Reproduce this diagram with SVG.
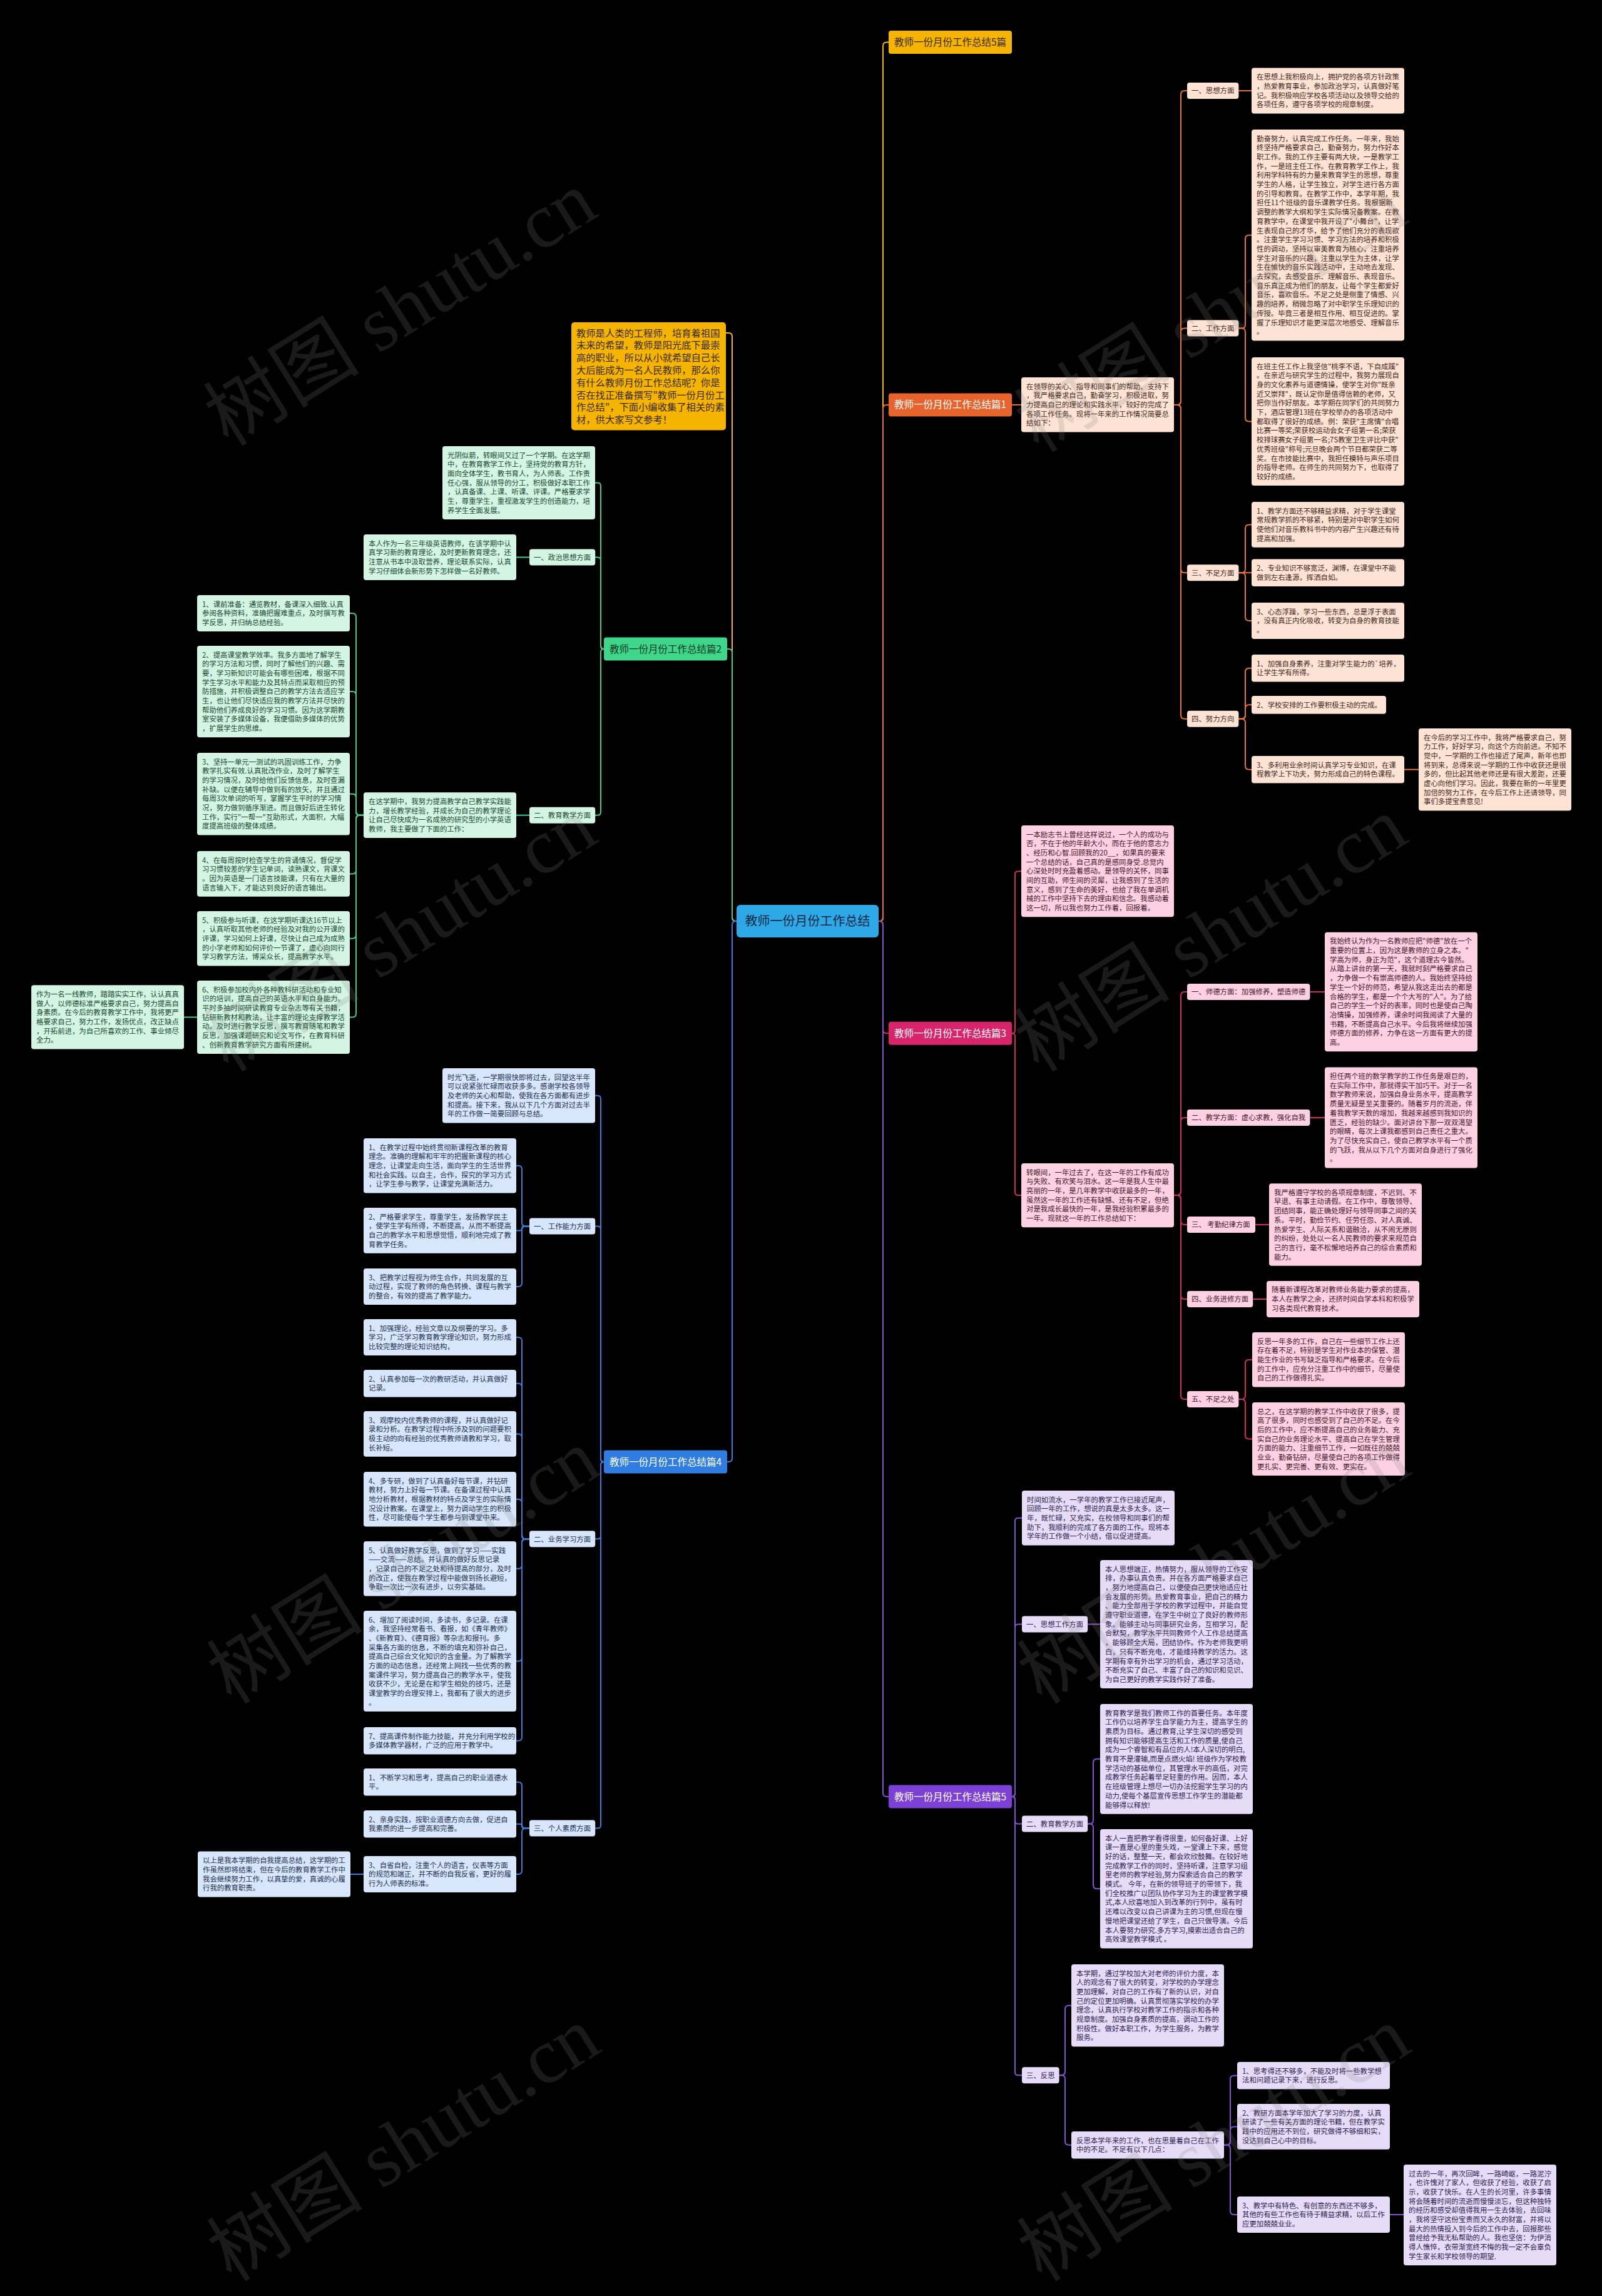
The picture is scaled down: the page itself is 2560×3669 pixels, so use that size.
<svg xmlns="http://www.w3.org/2000/svg" width="2560" height="3669" viewBox="0 0 2560 3669">
<style>
text{font-family:"Noto Sans CJK SC","Noto Sans",sans-serif}
.t{font-size:11.4px}
.lb{font-size:11.4px}
.b1{fill:#fde3d4}.b3{fill:#fdd1e2}.b5{fill:#e6dcf7}.b2{fill:#d4f5e3}.b4{fill:#d7e6fb}
.c1{fill:#45271a}.c3{fill:#45172b}.c5{fill:#2f1d52}.c2{fill:#174a30}.c4{fill:#1d3150}
.k{fill:none;stroke-width:2}
.k0{stroke:#f5b400}.k1{stroke:#e8703a}.k3{stroke:#d02a67}.k5{stroke:#8450d4}.k2{stroke:#45c987}.k4{stroke:#3c7bd9}
.ttl{font-size:15.5px}
.wm{font-family:"Liberation Serif","Noto Sans CJK SC",serif;font-size:125px;fill:#808080;fill-opacity:.2}
</style>
<rect width="2560" height="3669" fill="#000"/>

<g id="connectors">
<path class="k k0" d="M1404 1472 L1405 1472 Q1411 1472 1411 1466 L1411 73.5 Q1411 67.5 1417 67.5 L1420 67.5"/>
<path class="k k1" d="M1404 1472 L1405 1472 Q1411 1472 1411 1466 L1411 652.9 Q1411 646.9 1417 646.9 L1420 646.9"/>
<path class="k k3" d="M1404 1472 L1405 1472 Q1411 1472 1411 1478 L1411 1645.2 Q1411 1651.2 1417 1651.2 L1420 1651.2"/>
<path class="k k5" d="M1404 1472 L1405 1472 Q1411 1472 1411 1478 L1411 2865 Q1411 2871 1417 2871 L1420 2871"/>
<path class="k k0" d="M1177 1472 L1176 1472 Q1170 1472 1170 1466 L1170 538 Q1170 532 1164 532 L1160 532"/>
<path class="k k2" d="M1177 1472 L1176 1472 Q1170 1472 1170 1466 L1170 1043.1 Q1170 1037.1 1164 1037.1 L1162 1037.1"/>
<path class="k k4" d="M1177 1472 L1176 1472 Q1170 1472 1170 1478 L1170 2330.1 Q1170 2336.1 1164 2336.1 L1162 2336.1"/>

<path class="k k1" d="M1617 646.9 L1632 646.9"/>
<path class="k k1" d="M1876 646.9 L1881 646.9 Q1887 646.9 1887 640.9 L1887 151 Q1887 145 1893 145 L1897 145"/>
<path class="k k1" d="M1876 646.9 L1881 646.9 Q1887 646.9 1887 640.9 L1887 530.6 Q1887 524.6 1893 524.6 L1897 524.6"/>
<path class="k k1" d="M1876 646.9 L1881 646.9 Q1887 646.9 1887 652.9 L1887 909.2 Q1887 915.2 1893 915.2 L1897 915.2"/>
<path class="k k1" d="M1876 646.9 L1881 646.9 Q1887 646.9 1887 652.9 L1887 1142.7 Q1887 1148.7 1893 1148.7 L1897 1148.7"/>
<path class="k k1" d="M1979.4 145 L2000 145"/>
<path class="k k1" d="M1979.4 524.6 L1984 524.6 Q1990 524.6 1990 518.6 L1990 381.7 Q1990 375.7 1996 375.7 L2000 375.7"/>
<path class="k k1" d="M1979.4 524.6 L1984 524.6 Q1990 524.6 1990 530.6 L1990 667.5 Q1990 673.5 1996 673.5 L2000 673.5"/>
<path class="k k1" d="M1979.4 915.2 L1984 915.2 Q1990 915.2 1990 909.2 L1990 844.4 Q1990 838.4 1996 838.4 L2000 838.4"/>
<path class="k k1" d="M1979.4 915.2 L2000 915.2"/>
<path class="k k1" d="M1979.4 915.2 L1984 915.2 Q1990 915.2 1990 921.2 L1990 986 Q1990 992 1996 992 L2000 992"/>
<path class="k k1" d="M1979.4 1148.7 L1984 1148.7 Q1990 1148.7 1990 1142.7 L1990 1073.7 Q1990 1067.7 1996 1067.7 L2000 1067.7"/>
<path class="k k1" d="M1979.4 1148.7 L1984 1148.7 Q1990 1148.7 1990 1142.7 L1990 1132.3 Q1990 1126.3 1996 1126.3 L2000 1126.3"/>
<path class="k k1" d="M1979.4 1148.7 L1984 1148.7 Q1990 1148.7 1990 1154.7 L1990 1223.7 Q1990 1229.7 1996 1229.7 L2000 1229.7"/>
<path class="k k1" d="M2244 1229.7 L2267 1229.7"/>

<path class="k k3" d="M1617 1651.2 Q1622 1651.2 1622 1646.2 L1622 1397.2 Q1622 1392.2 1627 1392.2 L1632 1392.2"/>
<path class="k k3" d="M1617 1651.2 Q1622 1651.2 1622 1656.2 L1622 1905.1 Q1622 1910.1 1627 1910.1 L1632 1910.1"/>
<path class="k k3" d="M1876 1910.1 L1881 1910.1 Q1887 1910.1 1887 1904.1 L1887 1591 Q1887 1585 1893 1585 L1897 1585"/>
<path class="k k3" d="M1876 1910.1 L1881 1910.1 Q1887 1910.1 1887 1904.1 L1887 1792 Q1887 1786 1893 1786 L1897 1786"/>
<path class="k k3" d="M1876 1910.1 L1881 1910.1 Q1887 1910.1 1887 1916.1 L1887 1951 Q1887 1957 1893 1957 L1897 1957"/>
<path class="k k3" d="M1876 1910.1 L1881 1910.1 Q1887 1910.1 1887 1916.1 L1887 2070 Q1887 2076 1893 2076 L1897 2076"/>
<path class="k k3" d="M1876 1910.1 L1881 1910.1 Q1887 1910.1 1887 1916.1 L1887 2230.1 Q1887 2236.1 1893 2236.1 L1897 2236.1"/>
<path class="k k3" d="M2093.4 1585 L2117 1585"/>
<path class="k k3" d="M2093.4 1786 L2117 1786"/>
<path class="k k3" d="M2006 1957 L2028 1957"/>
<path class="k k3" d="M2002.2 2076 L2024 2076"/>
<path class="k k3" d="M1979.4 2236.1 L1984 2236.1 Q1990 2236.1 1990 2230.1 L1990 2178.75 Q1990 2172.75 1996 2172.75 L2001 2172.75"/>
<path class="k k3" d="M1979.4 2236.1 L1984 2236.1 Q1990 2236.1 1990 2242.1 L1990 2293.45 Q1990 2299.45 1996 2299.45 L2001 2299.45"/>

<path class="k k5" d="M1617 2871 Q1622 2871 1622 2866 L1622 2430.75 Q1622 2425.75 1627 2425.75 L1633 2425.75"/>
<path class="k k5" d="M1617 2871 Q1622 2871 1622 2866 L1622 2600.5 Q1622 2595.5 1627 2595.5 L1633 2595.5"/>
<path class="k k5" d="M1617 2871 Q1622 2871 1622 2876 L1622 2909.5 Q1622 2914.5 1627 2914.5 L1633 2914.5"/>
<path class="k k5" d="M1617 2871 Q1622 2871 1622 2876 L1622 3311.25 Q1622 3316.25 1627 3316.25 L1633 3316.25"/>
<path class="k k5" d="M1738.2 2595.5 L1758 2595.5"/>
<path class="k k5" d="M1738.2 2914.5 L1741 2914.5 Q1747 2914.5 1747 2908.5 L1747 2816.85 Q1747 2810.85 1753 2810.85 L1758 2810.85"/>
<path class="k k5" d="M1738.2 2914.5 L1741 2914.5 Q1747 2914.5 1747 2920.5 L1747 3012.2 Q1747 3018.2 1753 3018.2 L1758 3018.2"/>
<path class="k k5" d="M1692.6 3316.25 L1696 3316.25 Q1702 3316.25 1702 3310.25 L1702 3210.8 Q1702 3204.8 1708 3204.8 L1712 3204.8"/>
<path class="k k5" d="M1692.6 3316.25 L1696 3316.25 Q1702 3316.25 1702 3322.25 L1702 3421.7 Q1702 3427.7 1708 3427.7 L1712 3427.7"/>
<path class="k k5" d="M1956 3427.7 L1960 3427.7 Q1966 3427.7 1966 3421.7 L1966 3322.7 Q1966 3316.7 1972 3316.7 L1977 3316.7"/>
<path class="k k5" d="M1956 3427.7 L1960 3427.7 Q1966 3427.7 1966 3421.7 L1966 3404.4 Q1966 3398.4 1972 3398.4 L1977 3398.4"/>
<path class="k k5" d="M1956 3427.7 L1960 3427.7 Q1966 3427.7 1966 3433.7 L1966 3533 Q1966 3539 1972 3539 L1977 3539"/>
<path class="k k5" d="M2221 3539 L2243 3539"/>

<path class="k k2" d="M965 1037.1 Q960 1037.1 960 1032.1 L960 776.45 Q960 771.45 955 771.45 L951 771.45"/>
<path class="k k2" d="M965 1037.1 Q960 1037.1 960 1032.1 L960 895.5 Q960 890.5 955 890.5 L951 890.5"/>
<path class="k k2" d="M965 1037.1 Q960 1037.1 960 1042.1 L960 1297.7 Q960 1302.7 955 1302.7 L951 1302.7"/>
<path class="k k2" d="M846 890.5 L825 890.5"/>
<path class="k k2" d="M846 1302.7 L825 1302.7"/>
<path class="k k2" d="M581 1302.7 L575 1302.7 Q569 1302.7 569 1296.7 L569 986 Q569 980 563 980 L559 980"/>
<path class="k k2" d="M581 1302.7 L575 1302.7 Q569 1302.7 569 1296.7 L569 1111 Q569 1105 563 1105 L559 1105"/>
<path class="k k2" d="M581 1302.7 L575 1302.7 Q569 1302.7 569 1296.7 L569 1274.8 Q569 1268.8 563 1268.8 L559 1268.8"/>
<path class="k k2" d="M581 1302.7 L575 1302.7 Q569 1302.7 569 1308.7 L569 1390.4 Q569 1396.4 563 1396.4 L559 1396.4"/>
<path class="k k2" d="M581 1302.7 L575 1302.7 Q569 1302.7 569 1308.7 L569 1493.75 Q569 1499.75 563 1499.75 L559 1499.75"/>
<path class="k k2" d="M581 1302.7 L575 1302.7 Q569 1302.7 569 1308.7 L569 1619.45 Q569 1625.45 563 1625.45 L559 1625.45"/>
<path class="k k2" d="M315 1625.45 L294 1625.45"/>

<path class="k k4" d="M965 2336.1 Q960 2336.1 960 2331.1 L960 1755.75 Q960 1750.75 955 1750.75 L951 1750.75"/>
<path class="k k4" d="M965 2336.1 Q960 2336.1 960 2331.1 L960 1964.4 Q960 1959.4 955 1959.4 L951 1959.4"/>
<path class="k k4" d="M965 2336.1 Q960 2336.1 960 2341.1 L960 2454.35 Q960 2459.35 955 2459.35 L951 2459.35"/>
<path class="k k4" d="M965 2336.1 Q960 2336.1 960 2341.1 L960 2916.4 Q960 2921.4 955 2921.4 L951 2921.4"/>
<path class="k k4" d="M846 1959.4 L840 1959.4 Q834 1959.4 834 1953.4 L834 1868.75 Q834 1862.75 828 1862.75 L825 1862.75"/>
<path class="k k4" d="M846 1959.4 L837.5 1959.4 Q834 1959.4 834 1962.9 Q834 1966.4 830.5 1966.4 L825 1966.4"/>
<path class="k k4" d="M846 1959.4 L840 1959.4 Q834 1959.4 834 1965.4 L834 2050 Q834 2056 828 2056 L825 2056"/>
<path class="k k4" d="M846 2459.35 L840 2459.35 Q834 2459.35 834 2453.35 L834 2143 Q834 2137 828 2137 L825 2137"/>
<path class="k k4" d="M846 2459.35 L840 2459.35 Q834 2459.35 834 2453.35 L834 2216.7 Q834 2210.7 828 2210.7 L825 2210.7"/>
<path class="k k4" d="M846 2459.35 L840 2459.35 Q834 2459.35 834 2453.35 L834 2297.4 Q834 2291.4 828 2291.4 L825 2291.4"/>
<path class="k k4" d="M846 2459.35 L840 2459.35 Q834 2459.35 834 2453.35 L834 2401.75 Q834 2395.75 828 2395.75 L825 2395.75"/>
<path class="k k4" d="M846 2459.35 L840 2459.35 Q834 2459.35 834 2465.35 L834 2500.75 Q834 2506.75 828 2506.75 L825 2506.75"/>
<path class="k k4" d="M846 2459.35 L840 2459.35 Q834 2459.35 834 2465.35 L834 2648.5 Q834 2654.5 828 2654.5 L825 2654.5"/>
<path class="k k4" d="M846 2459.35 L840 2459.35 Q834 2459.35 834 2465.35 L834 2775.7 Q834 2781.7 828 2781.7 L825 2781.7"/>
<path class="k k4" d="M846 2921.4 L840 2921.4 Q834 2921.4 834 2915.4 L834 2853.7 Q834 2847.7 828 2847.7 L825 2847.7"/>
<path class="k k4" d="M846 2921.4 L837.35 2921.4 Q834 2921.4 834 2918.05 Q834 2914.7 830.65 2914.7 L825 2914.7"/>
<path class="k k4" d="M846 2921.4 L840 2921.4 Q834 2921.4 834 2927.4 L834 2989 Q834 2995 828 2995 L825 2995"/>
<path class="k k4" d="M581 2995 L560 2995"/>
</g>

<g id="root">
<rect x="1177" y="1446" width="227" height="52" rx="6" fill="#2ea8e6"/>
<text x="1290.5" y="1479" text-anchor="middle" font-size="20" fill="#0c2a44">教师一份月份工作总结</text>
</g>
<g id="main-intro">
<rect x="913" y="515" width="247" height="172.4" rx="5" fill="#f5b400"/>
<text font-size="15.3" fill="#3a2a00" x="921" y="537.6"><tspan x="921">教师是人类的工程师，培育着祖国</tspan><tspan x="921" dy="19.8">未来的希望，教师是阳光底下最崇</tspan><tspan x="921" dy="19.8">高的职业，所以从小就希望自己长</tspan><tspan x="921" dy="19.8">大后能成为一名人民教师，那么你</tspan><tspan x="921" dy="19.8">有什么教师月份工作总结呢？你是</tspan><tspan x="921" dy="19.8">否在找正准备撰写"教师一份月份工</tspan><tspan x="921" dy="19.8">作总结"，下面小编收集了相关的素</tspan><tspan x="921" dy="19.8">材，供大家写文参考！</tspan></text>
</g>
<g id="title-5">
<rect x="1420" y="49" width="197" height="37" rx="4" fill="#f5b400"/>
<text class="ttl" x="1518.5" y="73" text-anchor="middle" fill="#3a2a00">教师一份月份工作总结5篇</text>
</g>

<!-- Branch 1 -->
<g id="title-1"><rect x="1420" y="628.4" width="197" height="37" rx="4" fill="#e8622c"/><text class="ttl" x="1518.5" y="652.4" text-anchor="middle" fill="#fff">教师一份月份工作总结篇1</text></g>
<g id="b1-intro"><rect class="b1" x="1632" y="603" width="244" height="87.5" rx="4"/><text class="t c1" x="1640" y="621.5"><tspan x="1640">在领导的关心、指导和同事们的帮助、支持下</tspan><tspan x="1640" dy="14.7">，我严格要求自己，勤奋学习，积极进取，努</tspan><tspan x="1640" dy="14.7">力提高自己的理论和实践水平，较好的完成了</tspan><tspan x="1640" dy="14.7">各项工作任务。现将一年来的工作情况简要总</tspan><tspan x="1640" dy="14.7">结如下：</tspan></text></g>
<g id="b1-l1"><rect class="b1" x="1897" y="132" width="82.4" height="26" rx="4"/><text class="lb c1" x="1904" y="149.3">一、思想方面</text></g>
<g id="b1-l1-t"><rect class="b1" x="2000" y="108.6" width="244" height="72.8" rx="4"/><text class="t c1" x="2008" y="127.1"><tspan x="2008">在思想上我积极向上，拥护党的各项方针政策</tspan><tspan x="2008" dy="14.7">，热爱教育事业，参加政治学习，认真做好笔</tspan><tspan x="2008" dy="14.7">记。我积极响应学校各项活动以及领导交给的</tspan><tspan x="2008" dy="14.7">各项任务，遵守各项学校的规章制度。</tspan></text></g>
<g id="b1-l2"><rect class="b1" x="1897" y="511.6" width="82.4" height="26" rx="4"/><text class="lb c1" x="1904" y="528.9">二、工作方面</text></g>
<g id="b1-l2-t1"><rect class="b1" x="2000" y="207" width="244" height="337.4" rx="4"/><text class="t c1" x="2008" y="225.5"><tspan x="2008">勤奋努力，认真完成工作任务。一年来，我始</tspan><tspan x="2008" dy="14.7">终坚持严格要求自己，勤奋努力，努力作好本</tspan><tspan x="2008" dy="14.7">职工作。我的工作主要有两大块，一是教学工</tspan><tspan x="2008" dy="14.7">作，一是班主任工作。在教育教学工作上，我</tspan><tspan x="2008" dy="14.7">利用学科特有的力量来教育学生的思想，尊重</tspan><tspan x="2008" dy="14.7">学生的人格，让学生独立，对学生进行各方面</tspan><tspan x="2008" dy="14.7">的引导和教育。在教学工作中，本学年期，我</tspan><tspan x="2008" dy="14.7">担任11个班级的音乐课教学任务。我根据新</tspan><tspan x="2008" dy="14.7">调整的教学大纲和学生实际情况备教案。在教</tspan><tspan x="2008" dy="14.7">育教学中，在课堂中我开设了"小舞台"，让学</tspan><tspan x="2008" dy="14.7">生表现自己的才华，给予了他们充分的表现欲</tspan><tspan x="2008" dy="14.7">。注重学生学习习惯、学习方法的培养和积极</tspan><tspan x="2008" dy="14.7">性的调动，坚持以审美教育为核心，注重培养</tspan><tspan x="2008" dy="14.7">学生对音乐的兴趣，注重以学生为主体，让学</tspan><tspan x="2008" dy="14.7">生在愉快的音乐实践活动中，主动地去发现、</tspan><tspan x="2008" dy="14.7">去探究，去感受音乐、理解音乐、表现音乐。</tspan><tspan x="2008" dy="14.7">音乐真正成为他们的朋友，让每个学生都爱好</tspan><tspan x="2008" dy="14.7">音乐，喜欢音乐。不足之处是侧重了情感、兴</tspan><tspan x="2008" dy="14.7">趣的培养，稍微忽略了对中职学生乐理知识的</tspan><tspan x="2008" dy="14.7">传授。毕竟三者是相互作用、相互促进的。掌</tspan><tspan x="2008" dy="14.7">握了乐理知识才能更深层次地感受、理解音乐</tspan><tspan x="2008" dy="14.7">。</tspan></text></g>
<g id="b1-l2-t2"><rect class="b1" x="2000" y="571" width="244" height="205.1" rx="4"/><text class="t c1" x="2008" y="589.5"><tspan x="2008">在班主任工作上我坚信"桃李不语，下自成蹊"</tspan><tspan x="2008" dy="14.7">。在亲近与研究学生的过程中，我努力展现自</tspan><tspan x="2008" dy="14.7">身的文化素养与道德情操，使学生对你"既亲</tspan><tspan x="2008" dy="14.7">近又崇拜"，既认定你是值得信赖的老师，又</tspan><tspan x="2008" dy="14.7">把你当作好朋友。本学期在同学们的共同努力</tspan><tspan x="2008" dy="14.7">下，酒店管理13班在学校举办的各项活动中</tspan><tspan x="2008" dy="14.7">都取得了很好的成绩。例：荣获"主席情"合唱</tspan><tspan x="2008" dy="14.7">比赛一等奖;荣获校运动会女子组第一名;荣获</tspan><tspan x="2008" dy="14.7">校排球赛女子组第一名;7S教室卫生评比中获"</tspan><tspan x="2008" dy="14.7">优秀班级"称号;元旦晚会两个节目都荣获二等</tspan><tspan x="2008" dy="14.7">奖。在市技能比赛中，我担任模特与声乐项目</tspan><tspan x="2008" dy="14.7">的指导老师。在师生的共同努力下，也取得了</tspan><tspan x="2008" dy="14.7">较好的成绩。</tspan></text></g>
<g id="b1-l3"><rect class="b1" x="1897" y="902.2" width="82.4" height="26" rx="4"/><text class="lb c1" x="1904" y="919.5">三、不足方面</text></g>
<g id="b1-l3-t1"><rect class="b1" x="2000" y="802" width="244" height="72.8" rx="4"/><text class="t c1" x="2008" y="820.5"><tspan x="2008">1、教学方面还不够精益求精，对于学生课堂</tspan><tspan x="2008" dy="14.7">常规教学抓的不够紧，特别是对中职学生如何</tspan><tspan x="2008" dy="14.7">使他们对音乐教科书中的内容产生兴趣还有待</tspan><tspan x="2008" dy="14.7">提高和加强。</tspan></text></g>
<g id="b1-l3-t2"><rect class="b1" x="2000" y="893.5" width="244" height="43.4" rx="4"/><text class="t c1" x="2008" y="912"><tspan x="2008">2、专业知识不够宽泛，渊博，在课堂中不能</tspan><tspan x="2008" dy="14.7">做到左右逢源，挥洒自如。</tspan></text></g>
<g id="b1-l3-t3"><rect class="b1" x="2000" y="963" width="244" height="58.1" rx="4"/><text class="t c1" x="2008" y="981.5"><tspan x="2008">3、心态浮躁，学习一些东西，总是浮于表面</tspan><tspan x="2008" dy="14.7">，没有真正内化吸收，转变为自身的教育技能</tspan><tspan x="2008" dy="14.7">。</tspan></text></g>
<g id="b1-l4"><rect class="b1" x="1897" y="1135.7" width="82.4" height="26" rx="4"/><text class="lb c1" x="1904" y="1153">四、努力方向</text></g>
<g id="b1-l4-t1"><rect class="b1" x="2000" y="1046" width="244" height="43.4" rx="4"/><text class="t c1" x="2008" y="1064.5"><tspan x="2008">1、加强自身素养，注重对学生能力的`培养，</tspan><tspan x="2008" dy="14.7">让学生学有所得。</tspan></text></g>
<g id="b1-l4-t2"><rect class="b1" x="2000" y="1112" width="215" height="28.7" rx="4"/><text class="t c1" x="2008" y="1130.5">2、学校安排的工作要积极主动的完成。</text></g>
<g id="b1-l4-t3"><rect class="b1" x="2000" y="1208" width="244" height="43.4" rx="4"/><text class="t c1" x="2008" y="1226.5"><tspan x="2008">3、多利用业余时间认真学习专业知识，在课</tspan><tspan x="2008" dy="14.7">程教学上下功夫，努力形成自己的特色课程。</tspan></text></g>
<g id="b1-l4-t3-c"><rect class="b1" x="2267" y="1164" width="244" height="131.6" rx="4"/><text class="t c1" x="2275" y="1182.5"><tspan x="2275">在今后的学习工作中，我将严格要求自己，努</tspan><tspan x="2275" dy="14.7">力工作，好好学习，向这个方向前进。不知不</tspan><tspan x="2275" dy="14.7">觉中，一学期的工作也接近了尾声，新年也即</tspan><tspan x="2275" dy="14.7">将到来，总得来说一学期的工作中收获还是很</tspan><tspan x="2275" dy="14.7">多的，但比起其他老师还是有很大差距，还要</tspan><tspan x="2275" dy="14.7">虚心向他们学习。因此，我要在新的一年里更</tspan><tspan x="2275" dy="14.7">加倍的努力工作，在今后工作上还请领导，同</tspan><tspan x="2275" dy="14.7">事们多提宝贵意见!</tspan></text></g>

<!-- Branch 3 -->
<g id="title-3"><rect x="1420" y="1632.7" width="197" height="37" rx="4" fill="#d8246a"/><text class="ttl" x="1518.5" y="1656.7" text-anchor="middle" fill="#fff">教师一份月份工作总结篇3</text></g>
<g id="b3-intro1"><rect class="b3" x="1632" y="1319" width="244" height="146.3" rx="4"/><text class="t c3" x="1640" y="1337.5"><tspan x="1640">一本励志书上曾经这样说过，一个人的成功与</tspan><tspan x="1640" dy="14.7">否，不在于他的年龄大小，而在于他的意志力</tspan><tspan x="1640" dy="14.7">、经历和心智.回顾我的20__，如果真的要来</tspan><tspan x="1640" dy="14.7">一个总结的话，自己真的是感同身受.总觉内</tspan><tspan x="1640" dy="14.7">心深处时时充盈着感动。是领导的关怀，同事</tspan><tspan x="1640" dy="14.7">间的互助，师生间的灵犀，让我感到了生活的</tspan><tspan x="1640" dy="14.7">意义，感到了生命的美好，也给了我在单调机</tspan><tspan x="1640" dy="14.7">械的工作中坚持下去的理由和信念。我感动着</tspan><tspan x="1640" dy="14.7">这一切，所以我也努力工作着，回报着。</tspan></text></g>
<g id="b3-intro2"><rect class="b3" x="1632" y="1859" width="244" height="102.2" rx="4"/><text class="t c3" x="1640" y="1877.5"><tspan x="1640">转眼间，一年过去了，在这一年的工作有成功</tspan><tspan x="1640" dy="14.7">与失败、有欢笑与泪水。这一年是我人生中最</tspan><tspan x="1640" dy="14.7">亮丽的一年，是几年教学中收获最多的一年，</tspan><tspan x="1640" dy="14.7">虽然这一年的工作还有缺憾、还有不足，但绝</tspan><tspan x="1640" dy="14.7">对是我成长最快的一年，是我经验积累最多的</tspan><tspan x="1640" dy="14.7">一年。现就这一年的工作总结如下：</tspan></text></g>
<g id="b3-l1"><rect class="b3" x="1897" y="1572" width="196.4" height="26" rx="4"/><text class="lb c3" x="1904" y="1589.3">一、师德方面：加强修养，塑造师德</text></g>
<g id="b3-l1-t"><rect class="b3" x="2117" y="1489.8" width="244" height="190.4" rx="4"/><text class="t c3" x="2125" y="1508.3"><tspan x="2125">我始终认为作为一名教师应把"师德"放在一个</tspan><tspan x="2125" dy="14.7">重要的位置上，因为这是教师的立身之本。"</tspan><tspan x="2125" dy="14.7">学高为师，身正为范"，这个道理古今皆然。</tspan><tspan x="2125" dy="14.7">从踏上讲台的第一天，我就时刻严格要求自己</tspan><tspan x="2125" dy="14.7">，力争做一个有崇高师德的人。我始终坚持给</tspan><tspan x="2125" dy="14.7">学生一个好的师范，希望从我这走出去的都是</tspan><tspan x="2125" dy="14.7">合格的学生，都是一个个大写的"人"。为了给</tspan><tspan x="2125" dy="14.7">自己的学生一个好的表率，同时也是使自己陶</tspan><tspan x="2125" dy="14.7">冶情操，加强修养，课余时间我阅读了大量的</tspan><tspan x="2125" dy="14.7">书籍，不断提高自己水平。今后我将继续加强</tspan><tspan x="2125" dy="14.7">师德方面的修养，力争在这一方面有更大的提</tspan><tspan x="2125" dy="14.7">高。</tspan></text></g>
<g id="b3-l2"><rect class="b3" x="1897" y="1773" width="196.4" height="26" rx="4"/><text class="lb c3" x="1904" y="1790.3">二、教学方面：虚心求教，强化自我</text></g>
<g id="b3-l2-t"><rect class="b3" x="2117" y="1705.5" width="244" height="161" rx="4"/><text class="t c3" x="2125" y="1724"><tspan x="2125">担任两个班的数学教学的工作任务是艰巨的，</tspan><tspan x="2125" dy="14.7">在实际工作中，那就得实干加巧干。对于一名</tspan><tspan x="2125" dy="14.7">数学教师来说，加强自身业务水平，提高教学</tspan><tspan x="2125" dy="14.7">质量无疑是至关重要的。随着岁月的流逝，伴</tspan><tspan x="2125" dy="14.7">着我教学天数的增加，我越来越感到我知识的</tspan><tspan x="2125" dy="14.7">匮乏，经验的缺少。面对讲台下那一双双渴望</tspan><tspan x="2125" dy="14.7">的眼睛，每次上课我都感到自己责任之重大。</tspan><tspan x="2125" dy="14.7">为了尽快充实自己，使自己教学水平有一个质</tspan><tspan x="2125" dy="14.7">的飞跃，我从以下几个方面对自身进行了强化</tspan><tspan x="2125" dy="14.7">。</tspan></text></g>
<g id="b3-l3"><rect class="b3" x="1897" y="1944" width="109" height="26" rx="4"/><text class="lb c3" x="1904" y="1961.3">三、 考勤纪律方面</text></g>
<g id="b3-l3-t"><rect class="b3" x="2028" y="1891.2" width="244" height="131.6" rx="4"/><text class="t c3" x="2036" y="1909.7"><tspan x="2036">我严格遵守学校的各项规章制度，不迟到、不</tspan><tspan x="2036" dy="14.7">早退、有事主动请假。在工作中，尊敬领导、</tspan><tspan x="2036" dy="14.7">团结同事，能正确处理好与领导同事之间的关</tspan><tspan x="2036" dy="14.7">系。平时，勤俭节约、任劳任怨、对人真诚、</tspan><tspan x="2036" dy="14.7">热爱学生、人际关系和谐融洽，从不闹无原则</tspan><tspan x="2036" dy="14.7">的纠纷，处处以一名人民教师的要求来规范自</tspan><tspan x="2036" dy="14.7">己的言行，毫不松懈地培养自己的综合素质和</tspan><tspan x="2036" dy="14.7">能力。</tspan></text></g>
<g id="b3-l4"><rect class="b3" x="1897" y="2063" width="105.2" height="26" rx="4"/><text class="lb c3" x="1904" y="2080.3">四、业务进修方面</text></g>
<g id="b3-l4-t"><rect class="b3" x="2024" y="2046.95" width="244" height="58.1" rx="4"/><text class="t c3" x="2032" y="2065.45"><tspan x="2032">随着新课程改革对教师业务能力要求的提高，</tspan><tspan x="2032" dy="14.7">本人在教学之余，还挤时间自学本科和积极学</tspan><tspan x="2032" dy="14.7">习各类现代教育技术。</tspan></text></g>
<g id="b3-l5"><rect class="b3" x="1897" y="2223.1" width="82.4" height="26" rx="4"/><text class="lb c3" x="1904" y="2240.4">五、不足之处</text></g>
<g id="b3-l5-t1"><rect class="b3" x="2001" y="2129" width="244" height="87.5" rx="4"/><text class="t c3" x="2009" y="2147.5"><tspan x="2009">反思一年多的工作，自己在一些细节工作上还</tspan><tspan x="2009" dy="14.7">存在着不足，特别是学生对作业本的保管、潜</tspan><tspan x="2009" dy="14.7">能生作业的书写缺乏指导和严格要求。在今后</tspan><tspan x="2009" dy="14.7">的工作中，应充分注重工作中的细节，尽量使</tspan><tspan x="2009" dy="14.7">自己的工作做得扎实。</tspan></text></g>
<g id="b3-l5-t2"><rect class="b3" x="2001" y="2241" width="244" height="116.9" rx="4"/><text class="t c3" x="2009" y="2259.5"><tspan x="2009">总之，在这学期的教学工作中收获了很多，提</tspan><tspan x="2009" dy="14.7">高了很多，同时也感受到了自己的不足。在今</tspan><tspan x="2009" dy="14.7">后的工作中，应不断提高自己的业务能力、充</tspan><tspan x="2009" dy="14.7">实自己的业务理论水平、提高自己在学生管理</tspan><tspan x="2009" dy="14.7">方面的能力、注重细节工作，一如既往的兢兢</tspan><tspan x="2009" dy="14.7">业业，勤奋钻研，尽量使自己的各项工作做得</tspan><tspan x="2009" dy="14.7">更扎实、更完善、更有效、更实在。</tspan></text></g>

<!-- Branch 5 -->
<g id="title-5b"><rect x="1420" y="2852.5" width="197" height="37" rx="4" fill="#7d40d6"/><text class="ttl" x="1518.5" y="2876.5" text-anchor="middle" fill="#fff">教师一份月份工作总结篇5</text></g>
<g id="b5-intro"><rect class="b5" x="1633" y="2382" width="244" height="87.5" rx="4"/><text class="t c5" x="1641" y="2400.5"><tspan x="1641">时间如流水，一学年的教学工作已接近尾声，</tspan><tspan x="1641" dy="14.7">回顾一年的工作，想说的真是太多太多。这一</tspan><tspan x="1641" dy="14.7">年，既忙碌，又充实，在校领导和同事们的帮</tspan><tspan x="1641" dy="14.7">助下，我顺利的完成了各方面的工作。现将本</tspan><tspan x="1641" dy="14.7">学年的工作做一个小结，借以促进提高。</tspan></text></g>
<g id="b5-l1"><rect class="b5" x="1633" y="2582.5" width="105.2" height="26" rx="4"/><text class="lb c5" x="1640" y="2599.8">一、思想工作方面</text></g>
<g id="b5-l1-t"><rect class="b5" x="1758" y="2493" width="244" height="205.1" rx="4"/><text class="t c5" x="1766" y="2511.5"><tspan x="1766">本人思想端正，热情努力，服从领导的工作安</tspan><tspan x="1766" dy="14.7">排，办事认真负责。并在各方面严格要求自己</tspan><tspan x="1766" dy="14.7">，努力地提高自己，以便使自己更快地适应社</tspan><tspan x="1766" dy="14.7">会发展的形势。热爱教育事业，把自己的精力</tspan><tspan x="1766" dy="14.7">、能力全部用于学校的教学过程中，并能自觉</tspan><tspan x="1766" dy="14.7">遵守职业道德，在学生中树立了良好的教师形</tspan><tspan x="1766" dy="14.7">象。能够主动与同事研究业务，互相学习，配</tspan><tspan x="1766" dy="14.7">合默契，教学水平共同教师个人工作总结提高</tspan><tspan x="1766" dy="14.7">，能够顾全大局，团结协作。作为老师我更明</tspan><tspan x="1766" dy="14.7">白，只有不断充电，才能维持教学的活力。这</tspan><tspan x="1766" dy="14.7">学期有幸有外出学习的机会，通过学习活动，</tspan><tspan x="1766" dy="14.7">不断充实了自己、丰富了自己的知识和见识、</tspan><tspan x="1766" dy="14.7">为自己更好的教学实践作好了准备。</tspan></text></g>
<g id="b5-l2"><rect class="b5" x="1633" y="2901.5" width="105.2" height="26" rx="4"/><text class="lb c5" x="1640" y="2918.8">二、教育教学方面</text></g>
<g id="b5-l2-t1"><rect class="b5" x="1758" y="2723" width="244" height="175.7" rx="4"/><text class="t c5" x="1766" y="2741.5"><tspan x="1766">教育教学是我们教师工作的首要任务。本年度</tspan><tspan x="1766" dy="14.7">工作仍以培养学生自学能力为主，提高学生的</tspan><tspan x="1766" dy="14.7">素质为目标。通过教育,让学生深切的感受到</tspan><tspan x="1766" dy="14.7">拥有知识能够提高生活和工作的质量,使自己</tspan><tspan x="1766" dy="14.7">成为一个睿智和有品位的人!本人深切的明白,</tspan><tspan x="1766" dy="14.7">教育不是灌输,而是点燃火焰! 班级作为学校教</tspan><tspan x="1766" dy="14.7">学活动的基础单位，其管理水平的高低，对完</tspan><tspan x="1766" dy="14.7">成教学任务起着举足轻重的作用。因而，本人</tspan><tspan x="1766" dy="14.7">在班级管理上想尽一切办法挖掘学生学习的内</tspan><tspan x="1766" dy="14.7">动力,使每个基层宣传思想工作学生的潜能都</tspan><tspan x="1766" dy="14.7">能够得以释放!</tspan></text></g>
<g id="b5-l2-t2"><rect class="b5" x="1758" y="2923" width="244" height="190.4" rx="4"/><text class="t c5" x="1766" y="2941.5"><tspan x="1766">本人一直把教学看得很重，如何备好课、上好</tspan><tspan x="1766" dy="14.7">课一直是心里的重头戏，一堂课上下来，感觉</tspan><tspan x="1766" dy="14.7">好的话，整整一天，都会欢欣鼓舞。在较好地</tspan><tspan x="1766" dy="14.7">完成教学工作的同时，坚持听课，注意学习组</tspan><tspan x="1766" dy="14.7">里老师的教学经验,努力探索适合自己的教学</tspan><tspan x="1766" dy="14.7">模式。 今年，在新的领导班子的带领下，我</tspan><tspan x="1766" dy="14.7">们全校推广以团队协作学习为主的课堂教学模</tspan><tspan x="1766" dy="14.7">式,本人欣喜地加入到改革的行列中，虽有时</tspan><tspan x="1766" dy="14.7">还难以改变以自己讲课为主的习惯,但现在慢</tspan><tspan x="1766" dy="14.7">慢地把课堂还给了学生，自己只做导演。今后</tspan><tspan x="1766" dy="14.7">本人要努力研究.多方学习,摸索出适合自己的</tspan><tspan x="1766" dy="14.7">高效课堂教学模式 。</tspan></text></g>
<g id="b5-l3"><rect class="b5" x="1633" y="3303.25" width="59.6" height="26" rx="4"/><text class="lb c5" x="1640" y="3320.55">三、反思</text></g>
<g id="b5-l3-t1"><rect class="b5" x="1712" y="3139" width="244" height="131.6" rx="4"/><text class="t c5" x="1720" y="3157.5"><tspan x="1720">本学期，通过学校加大对老师的评价力度，本</tspan><tspan x="1720" dy="14.7">人的观念有了很大的转变，对学校的办学理念</tspan><tspan x="1720" dy="14.7">更加理解，对自己的工作有了新的认识，对自</tspan><tspan x="1720" dy="14.7">己的定位更加明确。认真贯彻落实学校的办学</tspan><tspan x="1720" dy="14.7">理念，认真执行学校对教学工作的指示和各种</tspan><tspan x="1720" dy="14.7">规章制度。加强自身素质的提高，调动工作的</tspan><tspan x="1720" dy="14.7">积极性。做好本职工作，为学生服务，为教学</tspan><tspan x="1720" dy="14.7">服务。</tspan></text></g>
<g id="b5-l3-t2"><rect class="b5" x="1712" y="3406" width="244" height="43.4" rx="4"/><text class="t c5" x="1720" y="3424.5"><tspan x="1720">反思本学年来的工作，也在思量着自己在工作</tspan><tspan x="1720" dy="14.7">中的不足。不足有以下几点：</tspan></text></g>
<g id="b5-r1"><rect class="b5" x="1977" y="3295" width="244" height="43.4" rx="4"/><text class="t c5" x="1985" y="3313.5"><tspan x="1985">1、思考得还不够多，不能及时将一些教学想</tspan><tspan x="1985" dy="14.7">法和问题记录下来，进行反思。</tspan></text></g>
<g id="b5-r2"><rect class="b5" x="1977" y="3362" width="244" height="72.8" rx="4"/><text class="t c5" x="1985" y="3380.5"><tspan x="1985">2、教研方面本学年加大了学习的力度，认真</tspan><tspan x="1985" dy="14.7">研读了一些有关方面的理论书籍，但在教学实</tspan><tspan x="1985" dy="14.7">践中的应用还不到位，研究做得不够细和实，</tspan><tspan x="1985" dy="14.7">没达到自己心中的目标。</tspan></text></g>
<g id="b5-r3"><rect class="b5" x="1977" y="3510" width="244" height="58.1" rx="4"/><text class="t c5" x="1985" y="3528.5"><tspan x="1985">3、教学中有特色、有创意的东西还不够多，</tspan><tspan x="1985" dy="14.7">其他的有些工作也有待于精益求精，以后工作</tspan><tspan x="1985" dy="14.7">应更加兢兢业业。</tspan></text></g>
<g id="b5-r3-c"><rect class="b5" x="2243" y="3459" width="244" height="161" rx="4"/><text class="t c5" x="2251" y="3477.5"><tspan x="2251">过去的一年，再次回眸，一路崎岖，一路泥泞</tspan><tspan x="2251" dy="14.7">，也许愧对了家人，但收获了经验，收获了启</tspan><tspan x="2251" dy="14.7">示，收获了快乐。在人生的长河里，许多事情</tspan><tspan x="2251" dy="14.7">将会随着时间的流逝而慢慢淡忘，但这种独特</tspan><tspan x="2251" dy="14.7">的经历和感受却值得我用一生去体验，去回味</tspan><tspan x="2251" dy="14.7">，我将坚守这份宝贵而又永久的财富，并将以</tspan><tspan x="2251" dy="14.7">最大的热情投入到今后的工作中去，回报那些</tspan><tspan x="2251" dy="14.7">曾经给予我无私帮助的人。我也坚信：为伊消</tspan><tspan x="2251" dy="14.7">得人憔悴，衣带渐宽终不悔的我一定不会辜负</tspan><tspan x="2251" dy="14.7">学生家长和学校领导的期望.</tspan></text></g>

<!-- Branch 2 -->
<g id="title-2"><rect x="965" y="1018.6" width="197" height="37" rx="4" fill="#3ed68a"/><text class="ttl" x="1063.5" y="1042.6" text-anchor="middle" fill="#0f3a24">教师一份月份工作总结篇2</text></g>
<g id="b2-intro"><rect class="b2" x="707" y="713" width="244" height="116.9" rx="4"/><text class="t c2" x="715" y="731.5"><tspan x="715">光阴似箭，转眼间又过了一个学期。在这学期</tspan><tspan x="715" dy="14.7">中，在教育教学工作上，坚持党的教育方针，</tspan><tspan x="715" dy="14.7">面向全体学生，教书育人，为人师表。工作责</tspan><tspan x="715" dy="14.7">任心强，服从领导的分工，积极做好本职工作</tspan><tspan x="715" dy="14.7">，认真备课、上课、听课、评课。严格要求学</tspan><tspan x="715" dy="14.7">生，尊重学生，重视激发学生的创造能力，培</tspan><tspan x="715" dy="14.7">养学生全面发展。</tspan></text></g>
<g id="b2-l1"><rect class="b2" x="846" y="877.5" width="105.2" height="26" rx="4"/><text class="lb c2" x="853" y="894.8">一、政治思想方面</text></g>
<g id="b2-l1-t"><rect class="b2" x="581" y="854.1" width="244" height="72.8" rx="4"/><text class="t c2" x="589" y="872.6"><tspan x="589">本人作为一名三年级英语教师，在该学期中认</tspan><tspan x="589" dy="14.7">真学习新的教育理论，及时更新教育理念，还</tspan><tspan x="589" dy="14.7">注意从书本中汲取营养，理论联系实际，认真</tspan><tspan x="589" dy="14.7">学习仔细体会新形势下怎样做一名好教师。</tspan></text></g>
<g id="b2-l2"><rect class="b2" x="846" y="1289.7" width="105.2" height="26" rx="4"/><text class="lb c2" x="853" y="1307">二、教育教学方面</text></g>
<g id="b2-l2-t"><rect class="b2" x="581" y="1266.3" width="244" height="72.8" rx="4"/><text class="t c2" x="589" y="1284.8"><tspan x="589">在这学期中，我努力提高教学自己教学实践能</tspan><tspan x="589" dy="14.7">力，增长教学经验，并成长为自己的教学理论</tspan><tspan x="589" dy="14.7">让自己尽快成为一名成熟的研究型的小学英语</tspan><tspan x="589" dy="14.7">教师，我主要做了下面的工作：</tspan></text></g>
<g id="b2-i1"><rect class="b2" x="315" y="951" width="244" height="58.1" rx="4"/><text class="t c2" x="323" y="969.5"><tspan x="323">1、课前准备：通览教材，备课深入细致.认真</tspan><tspan x="323" dy="14.7">参阅各种资料，准确把握难重点，及时撰写教</tspan><tspan x="323" dy="14.7">学反思，并归纳总结经验。</tspan></text></g>
<g id="b2-i2"><rect class="b2" x="315" y="1032" width="244" height="146.3" rx="4"/><text class="t c2" x="323" y="1050.5"><tspan x="323">2、提高课堂教学效率。我多方面地了解学生</tspan><tspan x="323" dy="14.7">的学习方法和习惯，同时了解他们的兴趣、需</tspan><tspan x="323" dy="14.7">要，学习新知识可能会有哪些困难，根据不同</tspan><tspan x="323" dy="14.7">学生学习水平和能力及其特点而采取相应的预</tspan><tspan x="323" dy="14.7">防措施，并积极调整自己的教学方法去适应学</tspan><tspan x="323" dy="14.7">生，也让他们尽快适应我的教学方法并尽快的</tspan><tspan x="323" dy="14.7">帮助他们养成良好的学习习惯。因为这学期教</tspan><tspan x="323" dy="14.7">室安装了多媒体设备，我便借助多媒体的优势</tspan><tspan x="323" dy="14.7">，扩展学生的思维。</tspan></text></g>
<g id="b2-i3"><rect class="b2" x="315" y="1203" width="244" height="131.6" rx="4"/><text class="t c2" x="323" y="1221.5"><tspan x="323">3、坚持一单元一测试的巩固训练工作，力争</tspan><tspan x="323" dy="14.7">教学扎实有效.认真批改作业，及时了解学生</tspan><tspan x="323" dy="14.7">的学习情况，及时给他们反馈信息，及时查漏</tspan><tspan x="323" dy="14.7">补缺。以便在辅导中做到有的放矢，并且通过</tspan><tspan x="323" dy="14.7">每周3次单词的听写，掌握学生平时的学习情</tspan><tspan x="323" dy="14.7">况，努力做到循序渐进。而且做好后进生转化</tspan><tspan x="323" dy="14.7">工作，实行"一帮一"互助形式，大面积，大幅</tspan><tspan x="323" dy="14.7">度提高班级的整体成绩。</tspan></text></g>
<g id="b2-i4"><rect class="b2" x="315" y="1360" width="244" height="72.8" rx="4"/><text class="t c2" x="323" y="1378.5"><tspan x="323">4、在每周按时检查学生的背诵情况，督促学</tspan><tspan x="323" dy="14.7">习习惯较差的学生记单词，读熟课文，背课文</tspan><tspan x="323" dy="14.7">。因为英语是一门语言技能课，只有在大量的</tspan><tspan x="323" dy="14.7">语言输入下，才能达到良好的语言输出。</tspan></text></g>
<g id="b2-i5"><rect class="b2" x="315" y="1456" width="244" height="87.5" rx="4"/><text class="t c2" x="323" y="1474.5"><tspan x="323">5、积极参与听课，在这学期听课达16节以上</tspan><tspan x="323" dy="14.7">，认真听取其他老师的经验及对我的公开课的</tspan><tspan x="323" dy="14.7">评课，学习如何上好课，尽快让自己成为成熟</tspan><tspan x="323" dy="14.7">的小学老师和如何评价一节课了，虚心向同行</tspan><tspan x="323" dy="14.7">学习教学方法，博采众长，提高教学水平。</tspan></text></g>
<g id="b2-i6"><rect class="b2" x="315" y="1567" width="244" height="116.9" rx="4"/><text class="t c2" x="323" y="1585.5"><tspan x="323">6、积极参加校内外各种教科研活动和专业知</tspan><tspan x="323" dy="14.7">识的培训，提高自己的英语水平和自身能力。</tspan><tspan x="323" dy="14.7">平时多抽时间研读教育专业杂志等有关书籍，</tspan><tspan x="323" dy="14.7">钻研新教材和教法，让丰富的理论支撑教学活</tspan><tspan x="323" dy="14.7">动。及时进行教学反思，撰写教育随笔和教学</tspan><tspan x="323" dy="14.7">反思，加强课题研究和论文写作，在教育科研</tspan><tspan x="323" dy="14.7">、创新教育教学研究方面有所建树。</tspan></text></g>
<g id="b2-i6-c"><rect class="b2" x="50" y="1574.35" width="244" height="102.2" rx="4"/><text class="t c2" x="58" y="1592.85"><tspan x="58">作为一名一线教师，踏踏实实工作，认认真真</tspan><tspan x="58" dy="14.7">做人，以师德标准严格要求自己，努力提高自</tspan><tspan x="58" dy="14.7">身素质。在今后的教育教学工作中，我将更严</tspan><tspan x="58" dy="14.7">格要求自己，努力工作，发扬优点，改正缺点</tspan><tspan x="58" dy="14.7">，开拓前进，为自己所喜欢的工作、事业倾尽</tspan><tspan x="58" dy="14.7">全力。</tspan></text></g>

<!-- Branch 4 -->
<g id="title-4"><rect x="965" y="2317.6" width="197" height="37" rx="4" fill="#2f7de0"/><text class="ttl" x="1063.5" y="2341.6" text-anchor="middle" fill="#fff">教师一份月份工作总结篇4</text></g>
<g id="b4-intro"><rect class="b4" x="707" y="1707" width="244" height="87.5" rx="4"/><text class="t c4" x="715" y="1725.5"><tspan x="715">时光飞逝，一学期很快即将过去，回望这半年</tspan><tspan x="715" dy="14.7">可以说紧张忙碌而收获多多。感谢学校各领导</tspan><tspan x="715" dy="14.7">及老师的关心和帮助，使我在各方面都有进步</tspan><tspan x="715" dy="14.7">和提高。接下来，我从以下几个方面对过去半</tspan><tspan x="715" dy="14.7">年的工作做一简要回顾与总结。</tspan></text></g>
<g id="b4-l1"><rect class="b4" x="846" y="1946.4" width="105.2" height="26" rx="4"/><text class="lb c4" x="853" y="1963.7">一、工作能力方面</text></g>
<g id="b4-l1-i1"><rect class="b4" x="581" y="1819" width="244" height="87.5" rx="4"/><text class="t c4" x="589" y="1837.5"><tspan x="589">1、在教学过程中始终贯彻新课程改革的教育</tspan><tspan x="589" dy="14.7">理念。准确的理解和牢牢的把握新课程的核心</tspan><tspan x="589" dy="14.7">理念，让课堂走向生活，面向学生的生活世界</tspan><tspan x="589" dy="14.7">和社会实践。以自主，合作，探究的学习方式</tspan><tspan x="589" dy="14.7">，让学生参与教学，让课堂充满新活力。</tspan></text></g>
<g id="b4-l1-i2"><rect class="b4" x="581" y="1930" width="244" height="72.8" rx="4"/><text class="t c4" x="589" y="1948.5"><tspan x="589">2、严格要求学生，尊重学生，发扬教学民主</tspan><tspan x="589" dy="14.7">，使学生学有所得，不断提高，从而不断提高</tspan><tspan x="589" dy="14.7">自己的教学水平和思想觉悟，顺利地完成了教</tspan><tspan x="589" dy="14.7">育教学任务。</tspan></text></g>
<g id="b4-l1-i3"><rect class="b4" x="581" y="2027" width="244" height="58.1" rx="4"/><text class="t c4" x="589" y="2045.5"><tspan x="589">3、把教学过程视为师生合作，共同发展的互</tspan><tspan x="589" dy="14.7">动过程，实现了教师的角色转换、课程与教学</tspan><tspan x="589" dy="14.7">的整合，有效的提高了教学能力。</tspan></text></g>
<g id="b4-l2"><rect class="b4" x="846" y="2446.35" width="105.2" height="26" rx="4"/><text class="lb c4" x="853" y="2463.65">二、业务学习方面</text></g>
<g id="b4-l2-i1"><rect class="b4" x="581" y="2108" width="244" height="58.1" rx="4"/><text class="t c4" x="589" y="2126.5"><tspan x="589">1、加强理论，经验文章以及纲要的学习。多</tspan><tspan x="589" dy="14.7">学习，广泛学习教育教学理论知识，努力形成</tspan><tspan x="589" dy="14.7">比较完整的理论知识结构，</tspan></text></g>
<g id="b4-l2-i2"><rect class="b4" x="581" y="2189" width="244" height="43.4" rx="4"/><text class="t c4" x="589" y="2207.5"><tspan x="589">2、认真参加每一次的教研活动，并认真做好</tspan><tspan x="589" dy="14.7">记录。</tspan></text></g>
<g id="b4-l2-i3"><rect class="b4" x="581" y="2255" width="244" height="72.8" rx="4"/><text class="t c4" x="589" y="2273.5"><tspan x="589">3、观摩校内优秀教师的课程，并认真做好记</tspan><tspan x="589" dy="14.7">录和分析。在教学过程中所涉及到的问题要积</tspan><tspan x="589" dy="14.7">极主动的向有经验的优秀教师请教和学习，取</tspan><tspan x="589" dy="14.7">长补短。</tspan></text></g>
<g id="b4-l2-i4"><rect class="b4" x="581" y="2352" width="244" height="87.5" rx="4"/><text class="t c4" x="589" y="2370.5"><tspan x="589">4、多专研，做到了认真备好每节课，并钻研</tspan><tspan x="589" dy="14.7">教材，努力上好每一节课。在备课过程中认真</tspan><tspan x="589" dy="14.7">地分析教材，根据教材的特点及学生的实际情</tspan><tspan x="589" dy="14.7">况设计教案。在课堂上，努力调动学生的积极</tspan><tspan x="589" dy="14.7">性，尽可能使每个学生都参与到课堂中来。</tspan></text></g>
<g id="b4-l2-i5"><rect class="b4" x="581" y="2463" width="244" height="87.5" rx="4"/><text class="t c4" x="589" y="2481.5"><tspan x="589">5、认真做好教学反思，做到了学习——实践</tspan><tspan x="589" dy="14.7">——交流——总结。并认真的做好反思记录</tspan><tspan x="589" dy="14.7">，记录自己的不足之处和待提高的部分，及时</tspan><tspan x="589" dy="14.7">的改正，使我在教学过程中能做到扬长避短，</tspan><tspan x="589" dy="14.7">争取一次比一次有进步，以夯实基础。</tspan></text></g>
<g id="b4-l2-i6"><rect class="b4" x="581" y="2574" width="244" height="161" rx="4"/><text class="t c4" x="589" y="2592.5"><tspan x="589">6、增加了阅读时间，多读书，多记录。在课</tspan><tspan x="589" dy="14.7">余，我坚持经常看书、看报，如《青年教师》</tspan><tspan x="589" dy="14.7">、《新教育》、《德育报》等杂志和报刊。多</tspan><tspan x="589" dy="14.7">采集各方面的信息，不断的填充和弥补自己，</tspan><tspan x="589" dy="14.7">提高自己综合文化知识的含金量。为了解教学</tspan><tspan x="589" dy="14.7">方面的动态信息，还经常上网找一些优秀的教</tspan><tspan x="589" dy="14.7">案课件学习，努力提高自己的教学水平，使我</tspan><tspan x="589" dy="14.7">收获不少，无论是在和学生相处的技巧，还是</tspan><tspan x="589" dy="14.7">课堂教学的合理安排上，我都有了很大的进步</tspan><tspan x="589" dy="14.7">。</tspan></text></g>
<g id="b4-l2-i7"><rect class="b4" x="581" y="2760" width="244" height="43.4" rx="4"/><text class="t c4" x="589" y="2778.5"><tspan x="589">7、提高课件制作能力技能，并充分利用学校的</tspan><tspan x="589" dy="14.7">多媒体教学器材，广泛的应用于教学中。</tspan></text></g>
<g id="b4-l3"><rect class="b4" x="846" y="2908.4" width="105.2" height="26" rx="4"/><text class="lb c4" x="853" y="2925.7">三、个人素质方面</text></g>
<g id="b4-l3-i1"><rect class="b4" x="581" y="2826" width="244" height="43.4" rx="4"/><text class="t c4" x="589" y="2844.5"><tspan x="589">1、不断学习和思考，提高自己的职业道德水</tspan><tspan x="589" dy="14.7">平。</tspan></text></g>
<g id="b4-l3-i2"><rect class="b4" x="581" y="2893" width="244" height="43.4" rx="4"/><text class="t c4" x="589" y="2911.5"><tspan x="589">2、亲身实践，按职业道德方向去做，促进自</tspan><tspan x="589" dy="14.7">我素质的进一步提高和完善。</tspan></text></g>
<g id="b4-l3-i3"><rect class="b4" x="581" y="2966" width="244" height="58.1" rx="4"/><text class="t c4" x="589" y="2984.5"><tspan x="589">3、自省自检，注重个人的语言，仪表等方面</tspan><tspan x="589" dy="14.7">的规范和端正，并不断的自我反省，更好的履</tspan><tspan x="589" dy="14.7">行为人师表的标准。</tspan></text></g>
<g id="b4-l3-i3-c"><rect class="b4" x="316" y="2958.6" width="244" height="72.8" rx="4"/><text class="t c4" x="324" y="2977.1"><tspan x="324">以上是我本学期的自我提高总结，这学期的工</tspan><tspan x="324" dy="14.7">作虽然即将结束，但在今后的教育教学工作中</tspan><tspan x="324" dy="14.7">我会继续努力工作，以真挚的爱，真诚的心履</tspan><tspan x="324" dy="14.7">行我的教育职责。</tspan></text></g>

<g id="watermarks">
<text class="wm" transform="translate(365 715) rotate(-32)">树图 shutu.cn</text>
<text class="wm" transform="translate(1660 725) rotate(-32)">树图 shutu.cn</text>
<text class="wm" transform="translate(365 1715) rotate(-32)">树图 shutu.cn</text>
<text class="wm" transform="translate(1660 1715) rotate(-32)">树图 shutu.cn</text>
<text class="wm" transform="translate(370 2725) rotate(-32)">树图 shutu.cn</text>
<text class="wm" transform="translate(1665 2725) rotate(-32)">树图 shutu.cn</text>
<text class="wm" transform="translate(370 3648) rotate(-32)">树图 shutu.cn</text>
<text class="wm" transform="translate(1665 3648) rotate(-32)">树图 shutu.cn</text>
</g>
</svg>
